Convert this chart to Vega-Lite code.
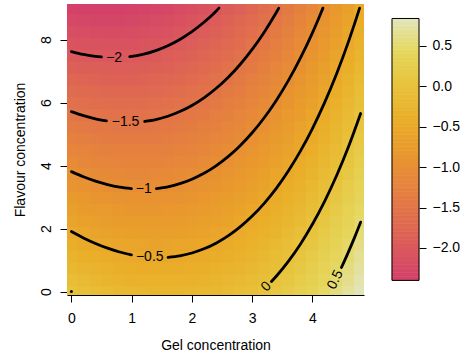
{
"$schema":"https://vega.github.io/schema/vega-lite/v6.json",
"background":"white",
"padding":{"left":13,"top":2,"right":0,"bottom":0},
"spacing":24,
"config":{"view":{"stroke":null},"font":"Liberation Sans",
"axis":{"labelFont":"Liberation Sans","titleFont":"Liberation Sans","labelFontSize":14,"titleFontSize":14,"titleFontWeight":"normal","labelColor":"#000","titleColor":"#000","tickColor":"#000","domainColor":"#000","tickWidth":1,"domainWidth":1,"grid":false,"labelFlush":false,"labelOverlap":false}},
"datasets":{
"cells":[
{"x":0,"y":0,"z":0},{"x":0,"y":0.375,"z":-0.1},{"x":0,"y":0.75,"z":-0.2},{"x":0,"y":1.125,"z":-0.3},{"x":0,"y":1.5,"z":-0.39},{"x":0,"y":1.875,"z":-0.49},{"x":0,"y":2.25,"z":-0.59},{"x":0,"y":2.625,"z":-0.69},{"x":0,"y":3,"z":-0.79},{"x":0,"y":3.375,"z":-0.89},{"x":0,"y":3.75,"z":-0.98},{"x":0,"y":4.125,"z":-1.08},{"x":0,"y":4.5,"z":-1.18},{"x":0,"y":4.875,"z":-1.28},{"x":0,"y":5.25,"z":-1.38},{"x":0,"y":5.625,"z":-1.48},{"x":0,"y":6,"z":-1.58},{"x":0,"y":6.375,"z":-1.67},{"x":0,"y":6.75,"z":-1.77},{"x":0,"y":7.125,"z":-1.87},{"x":0,"y":7.5,"z":-1.97},{"x":0,"y":7.875,"z":-2.07},{"x":0,"y":8.25,"z":-2.17},{"x":0,"y":8.625,"z":-2.26},{"x":0,"y":9,"z":-2.36},
{"x":0.2,"y":0,"z":-0.06},{"x":0.2,"y":0.375,"z":-0.16},{"x":0.2,"y":0.75,"z":-0.25},{"x":0.2,"y":1.125,"z":-0.35},{"x":0.2,"y":1.5,"z":-0.45},{"x":0.2,"y":1.875,"z":-0.54},{"x":0.2,"y":2.25,"z":-0.64},{"x":0.2,"y":2.625,"z":-0.74},{"x":0.2,"y":3,"z":-0.83},{"x":0.2,"y":3.375,"z":-0.93},{"x":0.2,"y":3.75,"z":-1.03},{"x":0.2,"y":4.125,"z":-1.12},{"x":0.2,"y":4.5,"z":-1.22},{"x":0.2,"y":4.875,"z":-1.32},{"x":0.2,"y":5.25,"z":-1.41},{"x":0.2,"y":5.625,"z":-1.51},{"x":0.2,"y":6,"z":-1.61},{"x":0.2,"y":6.375,"z":-1.7},{"x":0.2,"y":6.75,"z":-1.8},{"x":0.2,"y":7.125,"z":-1.9},{"x":0.2,"y":7.5,"z":-1.99},{"x":0.2,"y":7.875,"z":-2.09},{"x":0.2,"y":8.25,"z":-2.19},{"x":0.2,"y":8.625,"z":-2.28},{"x":0.2,"y":9,"z":-2.38},
{"x":0.4,"y":0,"z":-0.11},{"x":0.4,"y":0.375,"z":-0.21},{"x":0.4,"y":0.75,"z":-0.3},{"x":0.4,"y":1.125,"z":-0.4},{"x":0.4,"y":1.5,"z":-0.49},{"x":0.4,"y":1.875,"z":-0.59},{"x":0.4,"y":2.25,"z":-0.68},{"x":0.4,"y":2.625,"z":-0.78},{"x":0.4,"y":3,"z":-0.87},{"x":0.4,"y":3.375,"z":-0.97},{"x":0.4,"y":3.75,"z":-1.06},{"x":0.4,"y":4.125,"z":-1.16},{"x":0.4,"y":4.5,"z":-1.25},{"x":0.4,"y":4.875,"z":-1.35},{"x":0.4,"y":5.25,"z":-1.44},{"x":0.4,"y":5.625,"z":-1.54},{"x":0.4,"y":6,"z":-1.63},{"x":0.4,"y":6.375,"z":-1.72},{"x":0.4,"y":6.75,"z":-1.82},{"x":0.4,"y":7.125,"z":-1.91},{"x":0.4,"y":7.5,"z":-2.01},{"x":0.4,"y":7.875,"z":-2.1},{"x":0.4,"y":8.25,"z":-2.2},{"x":0.4,"y":8.625,"z":-2.29},{"x":0.4,"y":9,"z":-2.39},
{"x":0.6,"y":0,"z":-0.16},{"x":0.6,"y":0.375,"z":-0.25},{"x":0.6,"y":0.75,"z":-0.34},{"x":0.6,"y":1.125,"z":-0.44},{"x":0.6,"y":1.5,"z":-0.53},{"x":0.6,"y":1.875,"z":-0.62},{"x":0.6,"y":2.25,"z":-0.72},{"x":0.6,"y":2.625,"z":-0.81},{"x":0.6,"y":3,"z":-0.9},{"x":0.6,"y":3.375,"z":-0.99},{"x":0.6,"y":3.75,"z":-1.09},{"x":0.6,"y":4.125,"z":-1.18},{"x":0.6,"y":4.5,"z":-1.27},{"x":0.6,"y":4.875,"z":-1.37},{"x":0.6,"y":5.25,"z":-1.46},{"x":0.6,"y":5.625,"z":-1.55},{"x":0.6,"y":6,"z":-1.65},{"x":0.6,"y":6.375,"z":-1.74},{"x":0.6,"y":6.75,"z":-1.83},{"x":0.6,"y":7.125,"z":-1.92},{"x":0.6,"y":7.5,"z":-2.02},{"x":0.6,"y":7.875,"z":-2.11},{"x":0.6,"y":8.25,"z":-2.2},{"x":0.6,"y":8.625,"z":-2.3},{"x":0.6,"y":9,"z":-2.39},
{"x":0.8,"y":0,"z":-0.19},{"x":0.8,"y":0.375,"z":-0.29},{"x":0.8,"y":0.75,"z":-0.38},{"x":0.8,"y":1.125,"z":-0.47},{"x":0.8,"y":1.5,"z":-0.56},{"x":0.8,"y":1.875,"z":-0.65},{"x":0.8,"y":2.25,"z":-0.74},{"x":0.8,"y":2.625,"z":-0.83},{"x":0.8,"y":3,"z":-0.92},{"x":0.8,"y":3.375,"z":-1.01},{"x":0.8,"y":3.75,"z":-1.11},{"x":0.8,"y":4.125,"z":-1.2},{"x":0.8,"y":4.5,"z":-1.29},{"x":0.8,"y":4.875,"z":-1.38},{"x":0.8,"y":5.25,"z":-1.47},{"x":0.8,"y":5.625,"z":-1.56},{"x":0.8,"y":6,"z":-1.65},{"x":0.8,"y":6.375,"z":-1.74},{"x":0.8,"y":6.75,"z":-1.83},{"x":0.8,"y":7.125,"z":-1.93},{"x":0.8,"y":7.5,"z":-2.02},{"x":0.8,"y":7.875,"z":-2.11},{"x":0.8,"y":8.25,"z":-2.2},{"x":0.8,"y":8.625,"z":-2.29},{"x":0.8,"y":9,"z":-2.38},
{"x":1,"y":0,"z":-0.22},{"x":1,"y":0.375,"z":-0.31},{"x":1,"y":0.75,"z":-0.4},{"x":1,"y":1.125,"z":-0.49},{"x":1,"y":1.5,"z":-0.58},{"x":1,"y":1.875,"z":-0.67},{"x":1,"y":2.25,"z":-0.76},{"x":1,"y":2.625,"z":-0.85},{"x":1,"y":3,"z":-0.94},{"x":1,"y":3.375,"z":-1.03},{"x":1,"y":3.75,"z":-1.12},{"x":1,"y":4.125,"z":-1.2},{"x":1,"y":4.5,"z":-1.29},{"x":1,"y":4.875,"z":-1.38},{"x":1,"y":5.25,"z":-1.47},{"x":1,"y":5.625,"z":-1.56},{"x":1,"y":6,"z":-1.65},{"x":1,"y":6.375,"z":-1.74},{"x":1,"y":6.75,"z":-1.83},{"x":1,"y":7.125,"z":-1.92},{"x":1,"y":7.5,"z":-2.01},{"x":1,"y":7.875,"z":-2.1},{"x":1,"y":8.25,"z":-2.19},{"x":1,"y":8.625,"z":-2.28},{"x":1,"y":9,"z":-2.37},
{"x":1.2,"y":0,"z":-0.24},{"x":1.2,"y":0.375,"z":-0.33},{"x":1.2,"y":0.75,"z":-0.42},{"x":1.2,"y":1.125,"z":-0.5},{"x":1.2,"y":1.5,"z":-0.59},{"x":1.2,"y":1.875,"z":-0.68},{"x":1.2,"y":2.25,"z":-0.77},{"x":1.2,"y":2.625,"z":-0.85},{"x":1.2,"y":3,"z":-0.94},{"x":1.2,"y":3.375,"z":-1.03},{"x":1.2,"y":3.75,"z":-1.12},{"x":1.2,"y":4.125,"z":-1.2},{"x":1.2,"y":4.5,"z":-1.29},{"x":1.2,"y":4.875,"z":-1.38},{"x":1.2,"y":5.25,"z":-1.47},{"x":1.2,"y":5.625,"z":-1.55},{"x":1.2,"y":6,"z":-1.64},{"x":1.2,"y":6.375,"z":-1.73},{"x":1.2,"y":6.75,"z":-1.82},{"x":1.2,"y":7.125,"z":-1.9},{"x":1.2,"y":7.5,"z":-1.99},{"x":1.2,"y":7.875,"z":-2.08},{"x":1.2,"y":8.25,"z":-2.17},{"x":1.2,"y":8.625,"z":-2.25},{"x":1.2,"y":9,"z":-2.34},
{"x":1.4,"y":0,"z":-0.25},{"x":1.4,"y":0.375,"z":-0.34},{"x":1.4,"y":0.75,"z":-0.43},{"x":1.4,"y":1.125,"z":-0.51},{"x":1.4,"y":1.5,"z":-0.6},{"x":1.4,"y":1.875,"z":-0.68},{"x":1.4,"y":2.25,"z":-0.77},{"x":1.4,"y":2.625,"z":-0.85},{"x":1.4,"y":3,"z":-0.94},{"x":1.4,"y":3.375,"z":-1.02},{"x":1.4,"y":3.75,"z":-1.11},{"x":1.4,"y":4.125,"z":-1.2},{"x":1.4,"y":4.5,"z":-1.28},{"x":1.4,"y":4.875,"z":-1.37},{"x":1.4,"y":5.25,"z":-1.45},{"x":1.4,"y":5.625,"z":-1.54},{"x":1.4,"y":6,"z":-1.62},{"x":1.4,"y":6.375,"z":-1.71},{"x":1.4,"y":6.75,"z":-1.79},{"x":1.4,"y":7.125,"z":-1.88},{"x":1.4,"y":7.5,"z":-1.97},{"x":1.4,"y":7.875,"z":-2.05},{"x":1.4,"y":8.25,"z":-2.14},{"x":1.4,"y":8.625,"z":-2.22},{"x":1.4,"y":9,"z":-2.31},
{"x":1.6,"y":0,"z":-0.26},{"x":1.6,"y":0.375,"z":-0.34},{"x":1.6,"y":0.75,"z":-0.42},{"x":1.6,"y":1.125,"z":-0.51},{"x":1.6,"y":1.5,"z":-0.59},{"x":1.6,"y":1.875,"z":-0.68},{"x":1.6,"y":2.25,"z":-0.76},{"x":1.6,"y":2.625,"z":-0.84},{"x":1.6,"y":3,"z":-0.93},{"x":1.6,"y":3.375,"z":-1.01},{"x":1.6,"y":3.75,"z":-1.09},{"x":1.6,"y":4.125,"z":-1.18},{"x":1.6,"y":4.5,"z":-1.26},{"x":1.6,"y":4.875,"z":-1.35},{"x":1.6,"y":5.25,"z":-1.43},{"x":1.6,"y":5.625,"z":-1.51},{"x":1.6,"y":6,"z":-1.6},{"x":1.6,"y":6.375,"z":-1.68},{"x":1.6,"y":6.75,"z":-1.76},{"x":1.6,"y":7.125,"z":-1.85},{"x":1.6,"y":7.5,"z":-1.93},{"x":1.6,"y":7.875,"z":-2.02},{"x":1.6,"y":8.25,"z":-2.1},{"x":1.6,"y":8.625,"z":-2.18},{"x":1.6,"y":9,"z":-2.27},
{"x":1.8,"y":0,"z":-0.25},{"x":1.8,"y":0.375,"z":-0.33},{"x":1.8,"y":0.75,"z":-0.42},{"x":1.8,"y":1.125,"z":-0.5},{"x":1.8,"y":1.5,"z":-0.58},{"x":1.8,"y":1.875,"z":-0.66},{"x":1.8,"y":2.25,"z":-0.74},{"x":1.8,"y":2.625,"z":-0.83},{"x":1.8,"y":3,"z":-0.91},{"x":1.8,"y":3.375,"z":-0.99},{"x":1.8,"y":3.75,"z":-1.07},{"x":1.8,"y":4.125,"z":-1.15},{"x":1.8,"y":4.5,"z":-1.23},{"x":1.8,"y":4.875,"z":-1.32},{"x":1.8,"y":5.25,"z":-1.4},{"x":1.8,"y":5.625,"z":-1.48},{"x":1.8,"y":6,"z":-1.56},{"x":1.8,"y":6.375,"z":-1.64},{"x":1.8,"y":6.75,"z":-1.73},{"x":1.8,"y":7.125,"z":-1.81},{"x":1.8,"y":7.5,"z":-1.89},{"x":1.8,"y":7.875,"z":-1.97},{"x":1.8,"y":8.25,"z":-2.05},{"x":1.8,"y":8.625,"z":-2.14},{"x":1.8,"y":9,"z":-2.22},
{"x":2,"y":0,"z":-0.24},{"x":2,"y":0.375,"z":-0.32},{"x":2,"y":0.75,"z":-0.4},{"x":2,"y":1.125,"z":-0.48},{"x":2,"y":1.5,"z":-0.56},{"x":2,"y":1.875,"z":-0.64},{"x":2,"y":2.25,"z":-0.72},{"x":2,"y":2.625,"z":-0.8},{"x":2,"y":3,"z":-0.88},{"x":2,"y":3.375,"z":-0.96},{"x":2,"y":3.75,"z":-1.04},{"x":2,"y":4.125,"z":-1.12},{"x":2,"y":4.5,"z":-1.2},{"x":2,"y":4.875,"z":-1.28},{"x":2,"y":5.25,"z":-1.36},{"x":2,"y":5.625,"z":-1.44},{"x":2,"y":6,"z":-1.52},{"x":2,"y":6.375,"z":-1.6},{"x":2,"y":6.75,"z":-1.68},{"x":2,"y":7.125,"z":-1.76},{"x":2,"y":7.5,"z":-1.84},{"x":2,"y":7.875,"z":-1.92},{"x":2,"y":8.25,"z":-2},{"x":2,"y":8.625,"z":-2.08},{"x":2,"y":9,"z":-2.16},
{"x":2.2,"y":0,"z":-0.22},{"x":2.2,"y":0.375,"z":-0.29},{"x":2.2,"y":0.75,"z":-0.37},{"x":2.2,"y":1.125,"z":-0.45},{"x":2.2,"y":1.5,"z":-0.53},{"x":2.2,"y":1.875,"z":-0.61},{"x":2.2,"y":2.25,"z":-0.69},{"x":2.2,"y":2.625,"z":-0.76},{"x":2.2,"y":3,"z":-0.84},{"x":2.2,"y":3.375,"z":-0.92},{"x":2.2,"y":3.75,"z":-1},{"x":2.2,"y":4.125,"z":-1.08},{"x":2.2,"y":4.5,"z":-1.16},{"x":2.2,"y":4.875,"z":-1.23},{"x":2.2,"y":5.25,"z":-1.31},{"x":2.2,"y":5.625,"z":-1.39},{"x":2.2,"y":6,"z":-1.47},{"x":2.2,"y":6.375,"z":-1.55},{"x":2.2,"y":6.75,"z":-1.62},{"x":2.2,"y":7.125,"z":-1.7},{"x":2.2,"y":7.5,"z":-1.78},{"x":2.2,"y":7.875,"z":-1.86},{"x":2.2,"y":8.25,"z":-1.94},{"x":2.2,"y":8.625,"z":-2.02},{"x":2.2,"y":9,"z":-2.09},
{"x":2.4,"y":0,"z":-0.19},{"x":2.4,"y":0.375,"z":-0.26},{"x":2.4,"y":0.75,"z":-0.34},{"x":2.4,"y":1.125,"z":-0.42},{"x":2.4,"y":1.5,"z":-0.49},{"x":2.4,"y":1.875,"z":-0.57},{"x":2.4,"y":2.25,"z":-0.65},{"x":2.4,"y":2.625,"z":-0.72},{"x":2.4,"y":3,"z":-0.8},{"x":2.4,"y":3.375,"z":-0.87},{"x":2.4,"y":3.75,"z":-0.95},{"x":2.4,"y":4.125,"z":-1.03},{"x":2.4,"y":4.5,"z":-1.1},{"x":2.4,"y":4.875,"z":-1.18},{"x":2.4,"y":5.25,"z":-1.26},{"x":2.4,"y":5.625,"z":-1.33},{"x":2.4,"y":6,"z":-1.41},{"x":2.4,"y":6.375,"z":-1.49},{"x":2.4,"y":6.75,"z":-1.56},{"x":2.4,"y":7.125,"z":-1.64},{"x":2.4,"y":7.5,"z":-1.71},{"x":2.4,"y":7.875,"z":-1.79},{"x":2.4,"y":8.25,"z":-1.87},{"x":2.4,"y":8.625,"z":-1.94},{"x":2.4,"y":9,"z":-2.02},
{"x":2.6,"y":0,"z":-0.15},{"x":2.6,"y":0.375,"z":-0.22},{"x":2.6,"y":0.75,"z":-0.3},{"x":2.6,"y":1.125,"z":-0.37},{"x":2.6,"y":1.5,"z":-0.45},{"x":2.6,"y":1.875,"z":-0.52},{"x":2.6,"y":2.25,"z":-0.6},{"x":2.6,"y":2.625,"z":-0.67},{"x":2.6,"y":3,"z":-0.75},{"x":2.6,"y":3.375,"z":-0.82},{"x":2.6,"y":3.75,"z":-0.89},{"x":2.6,"y":4.125,"z":-0.97},{"x":2.6,"y":4.5,"z":-1.04},{"x":2.6,"y":4.875,"z":-1.12},{"x":2.6,"y":5.25,"z":-1.19},{"x":2.6,"y":5.625,"z":-1.27},{"x":2.6,"y":6,"z":-1.34},{"x":2.6,"y":6.375,"z":-1.42},{"x":2.6,"y":6.75,"z":-1.49},{"x":2.6,"y":7.125,"z":-1.56},{"x":2.6,"y":7.5,"z":-1.64},{"x":2.6,"y":7.875,"z":-1.71},{"x":2.6,"y":8.25,"z":-1.79},{"x":2.6,"y":8.625,"z":-1.86},{"x":2.6,"y":9,"z":-1.94},
{"x":2.8,"y":0,"z":-0.1},{"x":2.8,"y":0.375,"z":-0.17},{"x":2.8,"y":0.75,"z":-0.25},{"x":2.8,"y":1.125,"z":-0.32},{"x":2.8,"y":1.5,"z":-0.39},{"x":2.8,"y":1.875,"z":-0.47},{"x":2.8,"y":2.25,"z":-0.54},{"x":2.8,"y":2.625,"z":-0.61},{"x":2.8,"y":3,"z":-0.68},{"x":2.8,"y":3.375,"z":-0.76},{"x":2.8,"y":3.75,"z":-0.83},{"x":2.8,"y":4.125,"z":-0.9},{"x":2.8,"y":4.5,"z":-0.97},{"x":2.8,"y":4.875,"z":-1.05},{"x":2.8,"y":5.25,"z":-1.12},{"x":2.8,"y":5.625,"z":-1.19},{"x":2.8,"y":6,"z":-1.27},{"x":2.8,"y":6.375,"z":-1.34},{"x":2.8,"y":6.75,"z":-1.41},{"x":2.8,"y":7.125,"z":-1.48},{"x":2.8,"y":7.5,"z":-1.56},{"x":2.8,"y":7.875,"z":-1.63},{"x":2.8,"y":8.25,"z":-1.7},{"x":2.8,"y":8.625,"z":-1.77},{"x":2.8,"y":9,"z":-1.85},
{"x":3,"y":0,"z":-0.05},{"x":3,"y":0.375,"z":-0.12},{"x":3,"y":0.75,"z":-0.19},{"x":3,"y":1.125,"z":-0.26},{"x":3,"y":1.5,"z":-0.33},{"x":3,"y":1.875,"z":-0.4},{"x":3,"y":2.25,"z":-0.47},{"x":3,"y":2.625,"z":-0.54},{"x":3,"y":3,"z":-0.61},{"x":3,"y":3.375,"z":-0.68},{"x":3,"y":3.75,"z":-0.76},{"x":3,"y":4.125,"z":-0.83},{"x":3,"y":4.5,"z":-0.9},{"x":3,"y":4.875,"z":-0.97},{"x":3,"y":5.25,"z":-1.04},{"x":3,"y":5.625,"z":-1.11},{"x":3,"y":6,"z":-1.18},{"x":3,"y":6.375,"z":-1.25},{"x":3,"y":6.75,"z":-1.32},{"x":3,"y":7.125,"z":-1.39},{"x":3,"y":7.5,"z":-1.46},{"x":3,"y":7.875,"z":-1.54},{"x":3,"y":8.25,"z":-1.61},{"x":3,"y":8.625,"z":-1.68},{"x":3,"y":9,"z":-1.75},
{"x":3.2,"y":0,"z":0.02},{"x":3.2,"y":0.375,"z":-0.05},{"x":3.2,"y":0.75,"z":-0.12},{"x":3.2,"y":1.125,"z":-0.19},{"x":3.2,"y":1.5,"z":-0.26},{"x":3.2,"y":1.875,"z":-0.33},{"x":3.2,"y":2.25,"z":-0.4},{"x":3.2,"y":2.625,"z":-0.47},{"x":3.2,"y":3,"z":-0.54},{"x":3.2,"y":3.375,"z":-0.61},{"x":3.2,"y":3.75,"z":-0.67},{"x":3.2,"y":4.125,"z":-0.74},{"x":3.2,"y":4.5,"z":-0.81},{"x":3.2,"y":4.875,"z":-0.88},{"x":3.2,"y":5.25,"z":-0.95},{"x":3.2,"y":5.625,"z":-1.02},{"x":3.2,"y":6,"z":-1.09},{"x":3.2,"y":6.375,"z":-1.16},{"x":3.2,"y":6.75,"z":-1.23},{"x":3.2,"y":7.125,"z":-1.3},{"x":3.2,"y":7.5,"z":-1.36},{"x":3.2,"y":7.875,"z":-1.43},{"x":3.2,"y":8.25,"z":-1.5},{"x":3.2,"y":8.625,"z":-1.57},{"x":3.2,"y":9,"z":-1.64},
{"x":3.4,"y":0,"z":0.09},{"x":3.4,"y":0.375,"z":0.02},{"x":3.4,"y":0.75,"z":-0.05},{"x":3.4,"y":1.125,"z":-0.11},{"x":3.4,"y":1.5,"z":-0.18},{"x":3.4,"y":1.875,"z":-0.25},{"x":3.4,"y":2.25,"z":-0.32},{"x":3.4,"y":2.625,"z":-0.38},{"x":3.4,"y":3,"z":-0.45},{"x":3.4,"y":3.375,"z":-0.52},{"x":3.4,"y":3.75,"z":-0.58},{"x":3.4,"y":4.125,"z":-0.65},{"x":3.4,"y":4.5,"z":-0.72},{"x":3.4,"y":4.875,"z":-0.79},{"x":3.4,"y":5.25,"z":-0.85},{"x":3.4,"y":5.625,"z":-0.92},{"x":3.4,"y":6,"z":-0.99},{"x":3.4,"y":6.375,"z":-1.06},{"x":3.4,"y":6.75,"z":-1.12},{"x":3.4,"y":7.125,"z":-1.19},{"x":3.4,"y":7.5,"z":-1.26},{"x":3.4,"y":7.875,"z":-1.32},{"x":3.4,"y":8.25,"z":-1.39},{"x":3.4,"y":8.625,"z":-1.46},{"x":3.4,"y":9,"z":-1.53},
{"x":3.6,"y":0,"z":0.17},{"x":3.6,"y":0.375,"z":0.1},{"x":3.6,"y":0.75,"z":0.04},{"x":3.6,"y":1.125,"z":-0.03},{"x":3.6,"y":1.5,"z":-0.09},{"x":3.6,"y":1.875,"z":-0.16},{"x":3.6,"y":2.25,"z":-0.23},{"x":3.6,"y":2.625,"z":-0.29},{"x":3.6,"y":3,"z":-0.36},{"x":3.6,"y":3.375,"z":-0.42},{"x":3.6,"y":3.75,"z":-0.49},{"x":3.6,"y":4.125,"z":-0.55},{"x":3.6,"y":4.5,"z":-0.62},{"x":3.6,"y":4.875,"z":-0.68},{"x":3.6,"y":5.25,"z":-0.75},{"x":3.6,"y":5.625,"z":-0.81},{"x":3.6,"y":6,"z":-0.88},{"x":3.6,"y":6.375,"z":-0.94},{"x":3.6,"y":6.75,"z":-1.01},{"x":3.6,"y":7.125,"z":-1.08},{"x":3.6,"y":7.5,"z":-1.14},{"x":3.6,"y":7.875,"z":-1.21},{"x":3.6,"y":8.25,"z":-1.27},{"x":3.6,"y":8.625,"z":-1.34},{"x":3.6,"y":9,"z":-1.4},
{"x":3.8,"y":0,"z":0.26},{"x":3.8,"y":0.375,"z":0.19},{"x":3.8,"y":0.75,"z":0.13},{"x":3.8,"y":1.125,"z":0.06},{"x":3.8,"y":1.5,"z":0},{"x":3.8,"y":1.875,"z":-0.06},{"x":3.8,"y":2.25,"z":-0.13},{"x":3.8,"y":2.625,"z":-0.19},{"x":3.8,"y":3,"z":-0.25},{"x":3.8,"y":3.375,"z":-0.32},{"x":3.8,"y":3.75,"z":-0.38},{"x":3.8,"y":4.125,"z":-0.44},{"x":3.8,"y":4.5,"z":-0.51},{"x":3.8,"y":4.875,"z":-0.57},{"x":3.8,"y":5.25,"z":-0.63},{"x":3.8,"y":5.625,"z":-0.7},{"x":3.8,"y":6,"z":-0.76},{"x":3.8,"y":6.375,"z":-0.83},{"x":3.8,"y":6.75,"z":-0.89},{"x":3.8,"y":7.125,"z":-0.95},{"x":3.8,"y":7.5,"z":-1.02},{"x":3.8,"y":7.875,"z":-1.08},{"x":3.8,"y":8.25,"z":-1.14},{"x":3.8,"y":8.625,"z":-1.21},{"x":3.8,"y":9,"z":-1.27},
{"x":4,"y":0,"z":0.35},{"x":4,"y":0.375,"z":0.29},{"x":4,"y":0.75,"z":0.23},{"x":4,"y":1.125,"z":0.17},{"x":4,"y":1.5,"z":0.1},{"x":4,"y":1.875,"z":0.04},{"x":4,"y":2.25,"z":-0.02},{"x":4,"y":2.625,"z":-0.08},{"x":4,"y":3,"z":-0.14},{"x":4,"y":3.375,"z":-0.2},{"x":4,"y":3.75,"z":-0.27},{"x":4,"y":4.125,"z":-0.33},{"x":4,"y":4.5,"z":-0.39},{"x":4,"y":4.875,"z":-0.45},{"x":4,"y":5.25,"z":-0.51},{"x":4,"y":5.625,"z":-0.57},{"x":4,"y":6,"z":-0.64},{"x":4,"y":6.375,"z":-0.7},{"x":4,"y":6.75,"z":-0.76},{"x":4,"y":7.125,"z":-0.82},{"x":4,"y":7.5,"z":-0.88},{"x":4,"y":7.875,"z":-0.94},{"x":4,"y":8.25,"z":-1.01},{"x":4,"y":8.625,"z":-1.07},{"x":4,"y":9,"z":-1.13},
{"x":4.2,"y":0,"z":0.46},{"x":4.2,"y":0.375,"z":0.4},{"x":4.2,"y":0.75,"z":0.34},{"x":4.2,"y":1.125,"z":0.28},{"x":4.2,"y":1.5,"z":0.22},{"x":4.2,"y":1.875,"z":0.16},{"x":4.2,"y":2.25,"z":0.1},{"x":4.2,"y":2.625,"z":0.04},{"x":4.2,"y":3,"z":-0.02},{"x":4.2,"y":3.375,"z":-0.08},{"x":4.2,"y":3.75,"z":-0.14},{"x":4.2,"y":4.125,"z":-0.2},{"x":4.2,"y":4.5,"z":-0.26},{"x":4.2,"y":4.875,"z":-0.32},{"x":4.2,"y":5.25,"z":-0.38},{"x":4.2,"y":5.625,"z":-0.44},{"x":4.2,"y":6,"z":-0.5},{"x":4.2,"y":6.375,"z":-0.56},{"x":4.2,"y":6.75,"z":-0.62},{"x":4.2,"y":7.125,"z":-0.68},{"x":4.2,"y":7.5,"z":-0.74},{"x":4.2,"y":7.875,"z":-0.8},{"x":4.2,"y":8.25,"z":-0.86},{"x":4.2,"y":8.625,"z":-0.92},{"x":4.2,"y":9,"z":-0.98},
{"x":4.4,"y":0,"z":0.57},{"x":4.4,"y":0.375,"z":0.51},{"x":4.4,"y":0.75,"z":0.45},{"x":4.4,"y":1.125,"z":0.39},{"x":4.4,"y":1.5,"z":0.34},{"x":4.4,"y":1.875,"z":0.28},{"x":4.4,"y":2.25,"z":0.22},{"x":4.4,"y":2.625,"z":0.16},{"x":4.4,"y":3,"z":0.1},{"x":4.4,"y":3.375,"z":0.05},{"x":4.4,"y":3.75,"z":-0.01},{"x":4.4,"y":4.125,"z":-0.07},{"x":4.4,"y":4.5,"z":-0.13},{"x":4.4,"y":4.875,"z":-0.19},{"x":4.4,"y":5.25,"z":-0.24},{"x":4.4,"y":5.625,"z":-0.3},{"x":4.4,"y":6,"z":-0.36},{"x":4.4,"y":6.375,"z":-0.42},{"x":4.4,"y":6.75,"z":-0.48},{"x":4.4,"y":7.125,"z":-0.53},{"x":4.4,"y":7.5,"z":-0.59},{"x":4.4,"y":7.875,"z":-0.65},{"x":4.4,"y":8.25,"z":-0.71},{"x":4.4,"y":8.625,"z":-0.77},{"x":4.4,"y":9,"z":-0.82},
{"x":4.6,"y":0,"z":0.69},{"x":4.6,"y":0.375,"z":0.63},{"x":4.6,"y":0.75,"z":0.58},{"x":4.6,"y":1.125,"z":0.52},{"x":4.6,"y":1.5,"z":0.47},{"x":4.6,"y":1.875,"z":0.41},{"x":4.6,"y":2.25,"z":0.35},{"x":4.6,"y":2.625,"z":0.3},{"x":4.6,"y":3,"z":0.24},{"x":4.6,"y":3.375,"z":0.18},{"x":4.6,"y":3.75,"z":0.13},{"x":4.6,"y":4.125,"z":0.07},{"x":4.6,"y":4.5,"z":0.02},{"x":4.6,"y":4.875,"z":-0.04},{"x":4.6,"y":5.25,"z":-0.1},{"x":4.6,"y":5.625,"z":-0.15},{"x":4.6,"y":6,"z":-0.21},{"x":4.6,"y":6.375,"z":-0.27},{"x":4.6,"y":6.75,"z":-0.32},{"x":4.6,"y":7.125,"z":-0.38},{"x":4.6,"y":7.5,"z":-0.43},{"x":4.6,"y":7.875,"z":-0.49},{"x":4.6,"y":8.25,"z":-0.55},{"x":4.6,"y":8.625,"z":-0.6},{"x":4.6,"y":9,"z":-0.66},
{"x":4.8,"y":0,"z":0.82},{"x":4.8,"y":0.375,"z":0.76},{"x":4.8,"y":0.75,"z":0.71},{"x":4.8,"y":1.125,"z":0.66},{"x":4.8,"y":1.5,"z":0.6},{"x":4.8,"y":1.875,"z":0.55},{"x":4.8,"y":2.25,"z":0.49},{"x":4.8,"y":2.625,"z":0.44},{"x":4.8,"y":3,"z":0.38},{"x":4.8,"y":3.375,"z":0.33},{"x":4.8,"y":3.75,"z":0.28},{"x":4.8,"y":4.125,"z":0.22},{"x":4.8,"y":4.5,"z":0.17},{"x":4.8,"y":4.875,"z":0.11},{"x":4.8,"y":5.25,"z":0.06},{"x":4.8,"y":5.625,"z":0},{"x":4.8,"y":6,"z":-0.05},{"x":4.8,"y":6.375,"z":-0.1},{"x":4.8,"y":6.75,"z":-0.16},{"x":4.8,"y":7.125,"z":-0.21},{"x":4.8,"y":7.5,"z":-0.27},{"x":4.8,"y":7.875,"z":-0.32},{"x":4.8,"y":8.25,"z":-0.38},{"x":4.8,"y":8.625,"z":-0.43},{"x":4.8,"y":9,"z":-0.48}
],
"contours":[
{"c":"m2a","x":0,"y":7.619},{"c":"m2a","x":0.2,"y":7.527},{"c":"m2a","x":0.4,"y":7.464},{"c":"m2a","x":0.498,"y":7.448},
{"c":"m2b","x":0.968,"y":7.461},{"c":"m2b","x":1,"y":7.467},{"c":"m2b","x":1.2,"y":7.54},{"c":"m2b","x":1.4,"y":7.652},{"c":"m2b","x":1.6,"y":7.806},{"c":"m2b","x":1.8,"y":8.004},{"c":"m2b","x":2,"y":8.251},{"c":"m2b","x":2.2,"y":8.549},{"c":"m2b","x":2.4,"y":8.902},{"c":"m2b","x":2.449,"y":9},
{"c":"m15a","x":0,"y":5.714},{"c":"m15a","x":0.2,"y":5.586},{"c":"m15a","x":0.4,"y":5.485},{"c":"m15a","x":0.581,"y":5.421},
{"c":"m15b","x":1.217,"y":5.401},{"c":"m15b","x":1.4,"y":5.461},{"c":"m15b","x":1.6,"y":5.566},{"c":"m15b","x":1.8,"y":5.715},{"c":"m15b","x":2,"y":5.909},{"c":"m15b","x":2.2,"y":6.152},{"c":"m15b","x":2.4,"y":6.447},{"c":"m15b","x":2.6,"y":6.798},{"c":"m15b","x":2.8,"y":7.21},{"c":"m15b","x":3,"y":7.688},{"c":"m15b","x":3.2,"y":8.235},{"c":"m15b","x":3.4,"y":8.859},{"c":"m15b","x":3.442,"y":9},
{"c":"m1a","x":0,"y":3.81},{"c":"m1a","x":0.2,"y":3.645},{"c":"m1a","x":0.4,"y":3.506},{"c":"m1a","x":0.6,"y":3.396},{"c":"m1a","x":0.8,"y":3.315},{"c":"m1a","x":0.996,"y":3.267},
{"c":"m1b","x":1.411,"y":3.271},{"c":"m1b","x":1.6,"y":3.327},{"c":"m1b","x":1.8,"y":3.425},{"c":"m1b","x":2,"y":3.567},{"c":"m1b","x":2.2,"y":3.755},{"c":"m1b","x":2.4,"y":3.993},{"c":"m1b","x":2.6,"y":4.283},{"c":"m1b","x":2.8,"y":4.632},{"c":"m1b","x":3,"y":5.042},{"c":"m1b","x":3.2,"y":5.519},{"c":"m1b","x":3.4,"y":6.069},{"c":"m1b","x":3.6,"y":6.696},{"c":"m1b","x":3.8,"y":7.41},{"c":"m1b","x":4,"y":8.215},{"c":"m1b","x":4.1,"y":8.656},{"c":"m1b","x":4.174,"y":9},
{"c":"m05a","x":0,"y":1.905},{"c":"m05a","x":0.2,"y":1.704},{"c":"m05a","x":0.4,"y":1.528},{"c":"m05a","x":0.6,"y":1.378},{"c":"m05a","x":0.8,"y":1.257},{"c":"m05a","x":0.996,"y":1.167},
{"c":"m05b","x":1.604,"y":1.089},{"c":"m05b","x":1.8,"y":1.136},{"c":"m05b","x":2,"y":1.225},{"c":"m05b","x":2.2,"y":1.358},{"c":"m05b","x":2.4,"y":1.538},{"c":"m05b","x":2.6,"y":1.768},{"c":"m05b","x":2.8,"y":2.053},{"c":"m05b","x":3,"y":2.397},{"c":"m05b","x":3.2,"y":2.803},{"c":"m05b","x":3.4,"y":3.278},{"c":"m05b","x":3.6,"y":3.828},{"c":"m05b","x":3.8,"y":4.458},{"c":"m05b","x":4,"y":5.176},{"c":"m05b","x":4.2,"y":5.99},{"c":"m05b","x":4.4,"y":6.909},{"c":"m05b","x":4.6,"y":7.943},{"c":"m05b","x":4.7,"y":8.508},{"c":"m05b","x":4.783,"y":9},
{"c":"p0","x":3.32,"y":0.32},{"c":"p0","x":3.4,"y":0.488},{"c":"p0","x":3.6,"y":0.959},{"c":"p0","x":3.8,"y":1.506},{"c":"p0","x":4,"y":2.136},{"c":"p0","x":4.2,"y":2.857},{"c":"p0","x":4.4,"y":3.677},{"c":"p0","x":4.6,"y":4.606},{"c":"p0","x":4.8,"y":5.654},
{"c":"p05","x":4.481,"y":0.767},{"c":"p05","x":4.5,"y":0.843},{"c":"p05","x":4.6,"y":1.268},{"c":"p05","x":4.7,"y":1.721},{"c":"p05","x":4.8,"y":2.204}
],
"labels":[
{"level":-2,"x":0.71,"y":7.43},{"level":-1.5,"x":0.899,"y":5.38},{"level":-1,"x":1.2,"y":3.25},{"level":-0.5,"x":1.3,"y":1.1},{"level":0,"x":3.236,"y":0.16},{"level":0.5,"x":4.38,"y":0.38}
],
"bins":[
{"lo":-2.4,"hi":-2.35,"z":-2.375},{"lo":-2.35,"hi":-2.3,"z":-2.325},{"lo":-2.3,"hi":-2.25,"z":-2.275},{"lo":-2.25,"hi":-2.2,"z":-2.225},{"lo":-2.2,"hi":-2.15,"z":-2.175},{"lo":-2.15,"hi":-2.1,"z":-2.125},{"lo":-2.1,"hi":-2.05,"z":-2.075},{"lo":-2.05,"hi":-2,"z":-2.025},{"lo":-2,"hi":-1.95,"z":-1.975},{"lo":-1.95,"hi":-1.9,"z":-1.925},{"lo":-1.9,"hi":-1.85,"z":-1.875},{"lo":-1.85,"hi":-1.8,"z":-1.825},{"lo":-1.8,"hi":-1.75,"z":-1.775},{"lo":-1.75,"hi":-1.7,"z":-1.725},{"lo":-1.7,"hi":-1.65,"z":-1.675},{"lo":-1.65,"hi":-1.6,"z":-1.625},{"lo":-1.6,"hi":-1.55,"z":-1.575},{"lo":-1.55,"hi":-1.5,"z":-1.525},{"lo":-1.5,"hi":-1.45,"z":-1.475},{"lo":-1.45,"hi":-1.4,"z":-1.425},{"lo":-1.4,"hi":-1.35,"z":-1.375},{"lo":-1.35,"hi":-1.3,"z":-1.325},{"lo":-1.3,"hi":-1.25,"z":-1.275},{"lo":-1.25,"hi":-1.2,"z":-1.225},{"lo":-1.2,"hi":-1.15,"z":-1.175},{"lo":-1.15,"hi":-1.1,"z":-1.125},{"lo":-1.1,"hi":-1.05,"z":-1.075},{"lo":-1.05,"hi":-1,"z":-1.025},{"lo":-1,"hi":-0.95,"z":-0.975},{"lo":-0.95,"hi":-0.9,"z":-0.925},{"lo":-0.9,"hi":-0.85,"z":-0.875},{"lo":-0.85,"hi":-0.8,"z":-0.825},{"lo":-0.8,"hi":-0.75,"z":-0.775},{"lo":-0.75,"hi":-0.7,"z":-0.725},{"lo":-0.7,"hi":-0.65,"z":-0.675},{"lo":-0.65,"hi":-0.6,"z":-0.625},{"lo":-0.6,"hi":-0.55,"z":-0.575},{"lo":-0.55,"hi":-0.5,"z":-0.525},{"lo":-0.5,"hi":-0.45,"z":-0.475},{"lo":-0.45,"hi":-0.4,"z":-0.425},{"lo":-0.4,"hi":-0.35,"z":-0.375},{"lo":-0.35,"hi":-0.3,"z":-0.325},{"lo":-0.3,"hi":-0.25,"z":-0.275},{"lo":-0.25,"hi":-0.2,"z":-0.225},{"lo":-0.2,"hi":-0.15,"z":-0.175},{"lo":-0.15,"hi":-0.1,"z":-0.125},{"lo":-0.1,"hi":-0.05,"z":-0.075},{"lo":-0.05,"hi":0,"z":-0.025},{"lo":0,"hi":0.05,"z":0.025},{"lo":0.05,"hi":0.1,"z":0.075},{"lo":0.1,"hi":0.15,"z":0.125},{"lo":0.15,"hi":0.2,"z":0.175},{"lo":0.2,"hi":0.25,"z":0.225},{"lo":0.25,"hi":0.3,"z":0.275},{"lo":0.3,"hi":0.35,"z":0.325},{"lo":0.35,"hi":0.4,"z":0.375},{"lo":0.4,"hi":0.45,"z":0.425},{"lo":0.45,"hi":0.5,"z":0.475},{"lo":0.5,"hi":0.55,"z":0.525},{"lo":0.55,"hi":0.6,"z":0.575},{"lo":0.6,"hi":0.65,"z":0.625},{"lo":0.65,"hi":0.7,"z":0.675},{"lo":0.7,"hi":0.75,"z":0.725},{"lo":0.75,"hi":0.8,"z":0.775},{"lo":0.8,"hi":0.835,"z":0.8175}
]
},
"hconcat":[
{
"width":297,"height":291,
"layer":[
{"data":{"name":"cells"},
"mark":{"type":"square","size":165,"opacity":1,"clip":true},
"encoding":{
"x":{"field":"x","type":"quantitative","scale":{"domain":[-0.073,4.856],"nice":false,"zero":false},
"axis":{"title":"Gel concentration","values":[0,1,2,3,4],"format":"d","tickSize":7,"labelPadding":9,"titlePadding":13}},
"y":{"field":"y","type":"quantitative","scale":{"domain":[-0.108,9.13],"nice":false,"zero":false},
"axis":{"title":"Flavour concentration","values":[0,2,4,6,8],"format":"d","labelAngle":270,"labelAlign":"center","labelBaseline":"bottom","labelPadding":7,"titlePadding":12,"domain":false,"tickSize":7}},
"color":{"field":"z","type":"quantitative","legend":null,
"scale":{"domain":[-2.4,-1.995625,-1.59125,-1.186875,-0.7825,-0.378125,0.02625,0.430625,0.835],"range":["#D33F6A","#DB595C","#E1704C","#E6853B","#E99A2C","#EAAF29","#E8C33C","#E5D75D","#E2E6BD"],"interpolate":"rgb"}}
}},
{"data":{"name":"contours"},
"mark":{"type":"line","color":"black","strokeWidth":2.8,"strokeCap":"round","interpolate":"monotone"},
"encoding":{"x":{"field":"x","type":"quantitative"},"y":{"field":"y","type":"quantitative"},"detail":{"field":"c"}}},
{"data":{"name":"labels"},"transform":[{"filter":"datum.level < 0"}],
"mark":{"type":"text","font":"Liberation Sans","fontSize":14,"align":"center","baseline":"middle","color":"black"},
"encoding":{"x":{"field":"x","type":"quantitative"},"y":{"field":"y","type":"quantitative"},"text":{"field":"level","type":"quantitative","format":"~g"}}},
{"data":{"name":"labels"},"transform":[{"filter":"datum.level == 0"}],
"mark":{"type":"text","font":"Liberation Sans","fontSize":14,"align":"center","baseline":"middle","color":"black","angle":-46},
"encoding":{"x":{"field":"x","type":"quantitative"},"y":{"field":"y","type":"quantitative"},"text":{"field":"level","type":"quantitative","format":"~g"}}},
{"data":{"name":"labels"},"transform":[{"filter":"datum.level == 0.5"}],
"mark":{"type":"text","font":"Liberation Sans","fontSize":14,"align":"center","baseline":"middle","color":"black","angle":-64},
"encoding":{"x":{"field":"x","type":"quantitative"},"y":{"field":"y","type":"quantitative"},"text":{"field":"level","type":"quantitative","format":"~g"}}},
{"data":{"values":[{"x":0,"y":0}]},
"mark":{"type":"circle","size":9,"color":"black","opacity":1},
"encoding":{"x":{"field":"x","type":"quantitative"},"y":{"field":"y","type":"quantitative"}}}
]
},
{
"width":27,"height":291,
"layer":[
{"data":{"name":"bins"},
"mark":{"type":"rect","strokeWidth":0.6},
"encoding":{
"x":{"datum":0,"type":"quantitative","scale":{"domain":[0,1],"nice":false,"zero":false},"axis":null},
"x2":{"datum":1},
"y":{"field":"lo","type":"quantitative","scale":{"domain":[-2.5806,1.0138],"nice":false,"zero":false},
"axis":{"orient":"right","title":null,"values":[-2,-1.5,-1,-0.5,0,0.5],"format":".1f","domain":false,"tickSize":7,"labelPadding":6,"labelBaseline":"middle"}},
"y2":{"field":"hi"},
"color":{"field":"z","type":"quantitative","legend":null,
"scale":{"domain":[-2.4,-1.995625,-1.59125,-1.186875,-0.7825,-0.378125,0.02625,0.430625,0.835],"range":["#D33F6A","#DB595C","#E1704C","#E6853B","#E99A2C","#EAAF29","#E8C33C","#E5D75D","#E2E6BD"],"interpolate":"rgb"}},
"stroke":{"field":"z","type":"quantitative","legend":null,
"scale":{"domain":[-2.4,-1.995625,-1.59125,-1.186875,-0.7825,-0.378125,0.02625,0.430625,0.835],"range":["#D33F6A","#DB595C","#E1704C","#E6853B","#E99A2C","#EAAF29","#E8C33C","#E5D75D","#E2E6BD"],"interpolate":"rgb"}}
}},
{"data":{"values":[{"lo":-2.4,"hi":0.835}]},
"mark":{"type":"rect","fillOpacity":0,"stroke":"black","strokeWidth":1},
"encoding":{"x":{"datum":0,"type":"quantitative"},"x2":{"datum":1},"y":{"field":"lo","type":"quantitative"},"y2":{"field":"hi"}}}
]
}
]
}
